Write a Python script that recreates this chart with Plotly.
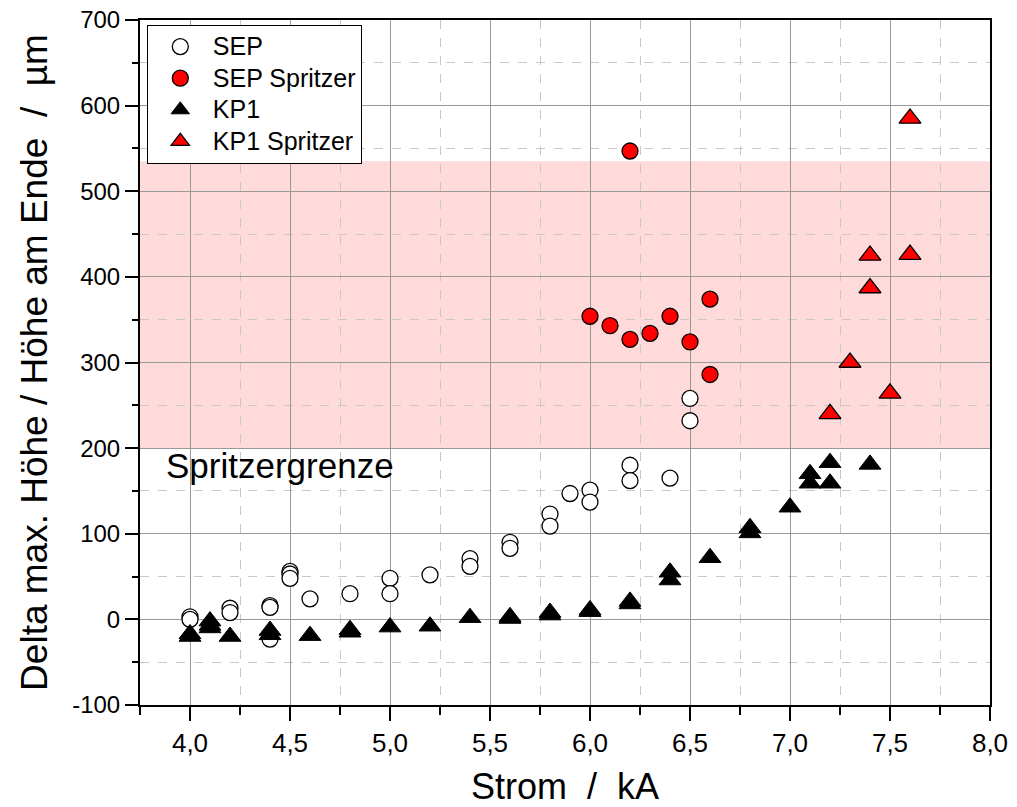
import plotly.graph_objects as go

# ---- data ----
sep_x = [4.0, 4.0, 4.2, 4.2, 4.4, 4.4, 4.4, 4.5, 4.5, 4.5, 4.6, 4.8, 5.0, 5.0, 5.2,
         5.4, 5.4, 5.6, 5.6, 5.8, 5.8, 5.9, 6.0, 6.0, 6.2, 6.2, 6.4, 6.5, 6.5]
sep_y = [3, 0, 13, 8, 16, 14, -23, 56, 53, 48, 24, 30, 48, 30, 52,
         71, 62, 90, 83, 123, 109, 147, 151, 137, 180, 162, 165, 258, 232]

sep_spr_x = [6.2, 6.0, 6.1, 6.2, 6.3, 6.4, 6.5, 6.6, 6.6]
sep_spr_y = [547, 354, 343, 327, 334, 354, 324, 374, 286]

kp1_x = [4.0, 4.0, 4.1, 4.1, 4.1, 4.2, 4.4, 4.4, 4.6, 4.8, 4.8, 5.0, 5.2,
         5.4, 5.6, 5.6, 5.8, 5.8, 6.0, 6.0, 6.2, 6.2, 6.4, 6.4, 6.6,
         6.8, 6.8, 7.0, 7.1, 7.1, 7.2, 7.2, 7.4]
kp1_y = [-17, -20, -2, -7, -10, -20, -13, -18, -19, -12, -15, -9, -8,
         2, 3, 1, 8, 5, 11, 9, 21, 18, 55, 46, 72,
         107, 101, 131, 170, 159, 183, 159, 181]

kp1_spr_x = [7.6, 7.4, 7.6, 7.4, 7.3, 7.5, 7.2]
kp1_spr_y = [585, 425, 426, 387, 300, 264, 240]

band_low, band_high = 200, 535

y_tickvals = [-100, 0, 100, 200, 300, 400, 500, 600, 700]
y_ticktext = ["-100", "0", "100", "200", "300", "400", "500", "600", "700"]
x_tickvals = [4.0, 4.5, 5.0, 5.5, 6.0, 6.5, 7.0, 7.5, 8.0]
x_ticktext = ["4,0", "4,5", "5,0", "5,5", "6,0", "6,5", "7,0", "7,5", "8,0"]

FONT = "Liberation Sans, Arial, sans-serif"


def legend_name(s):
    return "<span style='font-size:25px'>" + s + "</span>"


fig = go.Figure()

fig.add_trace(go.Scatter(x=sep_x, y=sep_y, mode="markers", name=legend_name("SEP"),
                         marker=dict(symbol="circle", size=16, color="white",
                                     line=dict(color="black", width=1.3))))
fig.add_trace(go.Scatter(x=sep_spr_x, y=sep_spr_y, mode="markers",
                         name=legend_name("SEP Spritzer"),
                         marker=dict(symbol="circle", size=16, color="#FF0000",
                                     line=dict(color="black", width=1.3))))
fig.add_trace(go.Scatter(x=kp1_x, y=kp1_y, mode="markers", name=legend_name("KP1"),
                         marker=dict(symbol="triangle-up", size=19, color="black",
                                     line=dict(color="black", width=1))))
fig.add_trace(go.Scatter(x=kp1_spr_x, y=kp1_spr_y, mode="markers",
                         name=legend_name("KP1 Spritzer"),
                         marker=dict(symbol="triangle-up", size=19, color="#FF0000",
                                     line=dict(color="black", width=1.3))))

fig.add_shape(type="rect", xref="paper", x0=0, x1=1, yref="y", y0=band_low, y1=band_high,
              fillcolor="#FFDADA", line=dict(width=0), layer="below")

fig.add_annotation(x=3.87, y=180, xref="x", yref="y", text="Spritzergrenze",
                   showarrow=False, xanchor="left", yanchor="middle",
                   font=dict(size=35, color="black", family=FONT))

# x-axis title placed as annotation (close to the bottom edge, as in the reference)
fig.add_annotation(x=0.5, y=0, xref="paper", yref="paper",
                   text="Strom\u00a0\u00a0/\u00a0\u00a0kA", showarrow=False,
                   xanchor="center", yanchor="middle", yshift=-81,
                   font=dict(size=36, color="black", family=FONT))

axis_common = dict(
    showline=True, linecolor="black", linewidth=2, mirror=True,
    ticks="outside", tickcolor="black", tickwidth=2,
    showgrid=True, gridcolor="#999999", gridwidth=1,
    zeroline=False, automargin=False,
)

fig.update_xaxes(
    **axis_common,
    range=[3.75, 8.0],
    tickvals=x_tickvals, ticktext=x_ticktext,
    ticklen=14,
    tickfont=dict(size=26, family=FONT, color="black"),
    minor=dict(dtick=0.25, tick0=0, ticks="outside", ticklen=8, tickwidth=2,
               tickcolor="black", showgrid=True, gridcolor="#C8C8C8",
               griddash="dash", gridwidth=1),
)
fig.update_yaxes(
    **axis_common,
    range=[-100, 700],
    tickvals=y_tickvals, ticktext=y_ticktext,
    ticklen=13,
    tickfont=dict(size=24, family=FONT, color="black"),
    minor=dict(dtick=50, tick0=0, ticks="outside", ticklen=6, tickwidth=2,
               tickcolor="black", showgrid=True, gridcolor="#C8C8C8",
               griddash="dash", gridwidth=1),
    title=dict(text="\u2002Delta max. Höhe / Höhe am Ende\u00a0\u00a0/\u00a0\u00a0µm",
               standoff=13, font=dict(size=37, family=FONT, color="black")),
)

fig.update_layout(
    width=1017, height=807,
    margin=dict(l=140, r=27, t=20, b=102),
    paper_bgcolor="white", plot_bgcolor="white",
    font=dict(family=FONT, color="black"),
    showlegend=True,
    legend=dict(x=0.008, y=0.993, xanchor="left", yanchor="top",
                bgcolor="white", bordercolor="black", borderwidth=1,
                font=dict(size=22, family=FONT, color="black"),
                itemwidth=55, tracegroupgap=0),
)

fig.write_html("out.html",
               config={"displayModeBar": False},
               post_script="document.body.style.margin='0';document.body.style.overflow='hidden';")
